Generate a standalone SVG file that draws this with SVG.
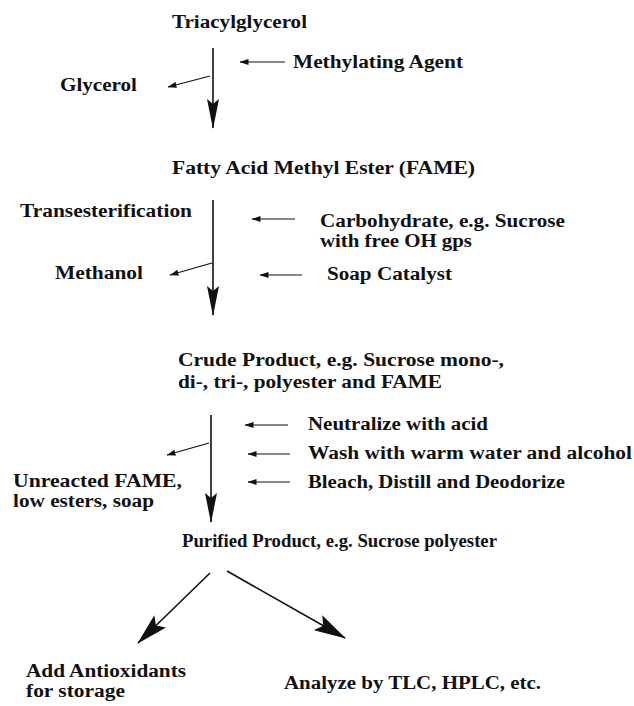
<svg xmlns="http://www.w3.org/2000/svg" width="634" height="706" viewBox="0 0 634 706">
<style>
text{font-family:"Liberation Serif","Times New Roman",serif;font-size:18px;font-weight:bold;fill:#111}
.ln{stroke:#111;stroke-width:1.6;fill:none}
.thin{stroke:#111;stroke-width:1.2;fill:none}
</style>
<defs>
<marker id="big" viewBox="0 0 30 12" refX="29" refY="6" markerWidth="30" markerHeight="12" markerUnits="userSpaceOnUse" orient="auto">
<path d="M0,0 L30,6 L0,12 L5,6 z" fill="#111"/>
</marker>
<marker id="diag" viewBox="0 0 32 17" refX="31" refY="8.5" markerWidth="32" markerHeight="17" markerUnits="userSpaceOnUse" orient="auto">
<path d="M0,0 L32,8.5 L0,17 L6,8.5 z" fill="#111"/>
</marker>
<marker id="sm" viewBox="0 0 9 6" refX="8.5" refY="3" markerWidth="9" markerHeight="6" markerUnits="userSpaceOnUse" orient="auto">
<path d="M0,0 L9,3 L0,6 z" fill="#111"/>
</marker>
</defs>
<rect width="634" height="706" fill="#fff"/>
<g id="n-triacylglycerol"><text x="172" y="28" textLength="135" lengthAdjust="spacingAndGlyphs">Triacylglycerol</text></g>
<g id="n-methylating"><text x="293" y="68" textLength="170" lengthAdjust="spacingAndGlyphs">Methylating Agent</text></g>
<g id="n-glycerol"><text x="60" y="91" textLength="77" lengthAdjust="spacingAndGlyphs">Glycerol</text></g>
<g id="n-fame"><text x="172" y="174" textLength="303" lengthAdjust="spacingAndGlyphs">Fatty Acid Methyl Ester (FAME)</text></g>
<g id="n-transesterification"><text x="20" y="217" textLength="172" lengthAdjust="spacingAndGlyphs">Transesterification</text></g>
<g id="n-carbohydrate"><text x="320" y="227" textLength="245" lengthAdjust="spacingAndGlyphs">Carbohydrate, e.g. Sucrose</text><text x="320" y="247" textLength="152" lengthAdjust="spacingAndGlyphs">with free OH gps</text></g>
<g id="n-methanol"><text x="55" y="279" textLength="88" lengthAdjust="spacingAndGlyphs">Methanol</text></g>
<g id="n-soap"><text x="327" y="280" textLength="125" lengthAdjust="spacingAndGlyphs">Soap Catalyst</text></g>
<g id="n-crude"><text x="178" y="366" textLength="326" lengthAdjust="spacingAndGlyphs">Crude Product, e.g. Sucrose mono-,</text><text x="178" y="388" textLength="264" lengthAdjust="spacingAndGlyphs">di-, tri-, polyester and FAME</text></g>
<g id="n-neutralize"><text x="308" y="430" textLength="180" lengthAdjust="spacingAndGlyphs">Neutralize with acid</text></g>
<g id="n-wash"><text x="308" y="459" textLength="324" lengthAdjust="spacingAndGlyphs">Wash with warm water and alcohol</text></g>
<g id="n-bleach"><text x="308" y="488" textLength="257" lengthAdjust="spacingAndGlyphs">Bleach, Distill and Deodorize</text></g>
<g id="n-unreacted"><text x="13" y="487" textLength="169" lengthAdjust="spacingAndGlyphs">Unreacted FAME,</text><text x="13" y="507" textLength="141" lengthAdjust="spacingAndGlyphs">low esters, soap</text></g>
<g id="n-purified"><text x="182" y="547" textLength="315" lengthAdjust="spacingAndGlyphs">Purified Product, e.g. Sucrose polyester</text></g>
<g id="n-antioxidants"><text x="26" y="677" textLength="160" lengthAdjust="spacingAndGlyphs">Add Antioxidants</text><text x="26" y="697" textLength="99" lengthAdjust="spacingAndGlyphs">for storage</text></g>
<g id="n-analyze"><text x="284" y="689" textLength="257" lengthAdjust="spacingAndGlyphs">Analyze by TLC, HPLC, etc.</text></g>
<g id="connectors">
<line class="ln" x1="213" y1="48" x2="213" y2="128" marker-end="url(#big)"/>
<line class="thin" x1="285" y1="62" x2="240" y2="62" marker-end="url(#sm)"/>
<line class="thin" x1="210" y1="76" x2="168" y2="87" marker-end="url(#sm)"/>
<line class="ln" x1="213" y1="200" x2="213" y2="315" marker-end="url(#big)"/>
<line class="thin" x1="295" y1="219" x2="252" y2="219" marker-end="url(#sm)"/>
<line class="thin" x1="212" y1="263" x2="170" y2="275" marker-end="url(#sm)"/>
<line class="thin" x1="302" y1="275" x2="260" y2="275" marker-end="url(#sm)"/>
<line class="ln" x1="211" y1="415" x2="211" y2="522" marker-end="url(#big)"/>
<line class="thin" x1="288" y1="425" x2="245" y2="425" marker-end="url(#sm)"/>
<line class="thin" x1="290" y1="454" x2="248" y2="454" marker-end="url(#sm)"/>
<line class="thin" x1="290" y1="482" x2="248" y2="482" marker-end="url(#sm)"/>
<line class="thin" x1="209" y1="443" x2="167" y2="455" marker-end="url(#sm)"/>
<line class="ln" x1="210" y1="573" x2="138" y2="643" marker-end="url(#diag)"/>
<line class="ln" x1="227" y1="571" x2="345" y2="638" marker-end="url(#diag)"/>
</g>
</svg>
